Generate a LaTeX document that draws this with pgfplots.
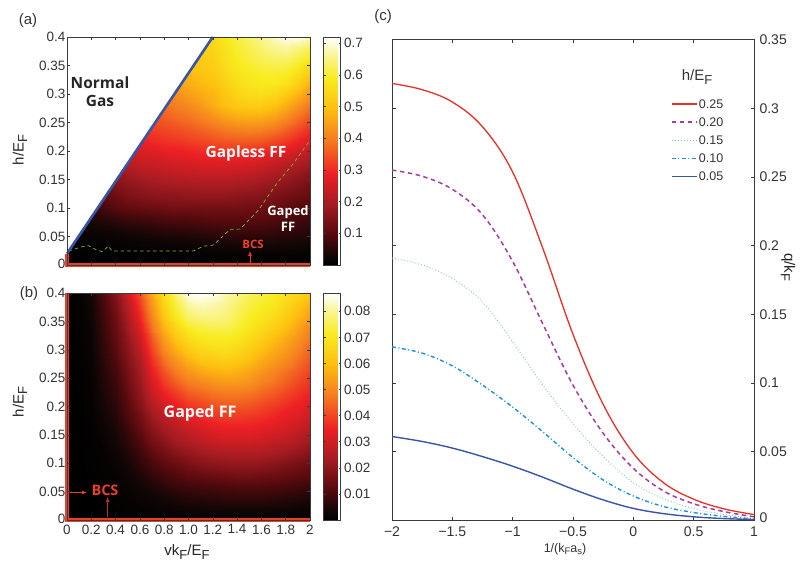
\documentclass[border=0pt]{standalone}
\usepackage{pgfplots}
\pgfplotsset{compat=1.18}
\usepackage{fontspec}
\setmainfont{Liberation Sans}
\newfontfamily\myr{Open Sans}
\usetikzlibrary{arrows.meta}
\definecolor{frame}{HTML}{3A3A3A}
\definecolor{bcsred}{HTML}{E8402A}
\definecolor{lnred}{HTML}{E8302A}
\definecolor{lnpur}{HTML}{A43D9E}
\definecolor{lngrn}{HTML}{7FC8A8}
\definecolor{lnblu}{HTML}{1E90D8}
\definecolor{lndbl}{HTML}{3A55A5}
\definecolor{grn}{HTML}{7CB342}
\pgfplotsset{
  colormap={hotish}{rgb255(0pt)=(0,0,0); rgb255(4pt)=(18,6,6); rgb255(14pt)=(90,10,14); rgb255(27pt)=(165,28,34); rgb255(40pt)=(237,32,36); rgb255(55pt)=(245,125,32); rgb255(69pt)=(253,192,16); rgb255(82pt)=(248,236,32); rgb255(93pt)=(250,246,160); rgb255(100pt)=(255,255,255)},
  heat/.style={
    scale only axis, width=243pt, anchor=south west,
    xmin=0,xmax=2,ymin=0,ymax=0.4,
    xtick={0,0.2,...,2.01}, ytick={0,0.05,...,0.401},
    yticklabels={\raisebox{2pt}{0},0.05,0.1,0.15,0.2,0.25,0.3,0.35,\raisebox{-3pt}{0.4}},
    tick align=inside, major tick length=3pt, tick style={frame,line width=.5pt},
    axis line style={frame,line width=.9pt},
    axis on top, clip=false,
    ticklabel style={font=\fontsize{13.5}{14}\selectfont,text=black!80, inner sep=1.5pt},
    colormap name=hotish, colorbar,
  },
  heatdata/.style={surf, shader=interp, mesh/cols=21, point meta=explicit},
}
\begin{document}
\begin{tikzpicture}[x=1pt,y=1pt]
\path[use as bounding box] (0,0) rectangle (806,563);

% ---------- panel (a)
\begin{axis}[heat, at={(67pt,298pt)}, height=228pt, xticklabels={},
  point meta min=0, point meta max=0.72,
  colorbar style={at={(parent axis.north east)}, anchor=north west, xshift=5pt, width=17pt,
    scaled ticks=false,
    ytick={0.1,0.2,0.3,0.4,0.5,0.6,0.7}, yticklabels={0.1,0.2,0.3,0.4,0.5,0.6,0.7},
    yticklabel pos=right, tick align=inside, major tick length=2pt,
    tick style={frame,line width=.5pt}, axis line style={frame,line width=.9pt},
    ticklabel style={font=\fontsize{13.5}{14}\selectfont,text=black!80}}]
\addplot[heatdata] table[x expr={mod(\coordindex,21)*0.1}, y expr={floor(\coordindex/21)*0.02}, meta index=0, header=false, row sep=crcr]{
.002\\.002\\.002\\.002\\.002\\.002\\.002\\.002\\.002\\.002\\.002\\.002\\.002\\.002\\.002\\.002\\.002\\.002\\.002\\.002\\.002\\
.002\\.003\\.003\\.003\\.004\\.004\\.005\\.005\\.006\\.006\\.007\\.008\\.009\\.01\\.01\\.01\\.01\\.01\\.01\\.01\\.01\\
.005\\.008\\.008\\.01\\.012\\.015\\.018\\.02\\.022\\.024\\.026\\.03\\.034\\.036\\.04\\.04\\.04\\.038\\.035\\.032\\.03\\
.01\\.02\\.02\\.025\\.03\\.035\\.04\\.045\\.05\\.052\\.055\\.06\\.065\\.07\\.07\\.07\\.07\\.065\\.06\\.055\\.05\\
.02\\.03\\.04\\.05\\.06\\.07\\.075\\.08\\.085\\.09\\.09\\.095\\.1\\.1\\.1\\.1\\.1\\.095\\.085\\.08\\.07\\
.03\\.04\\.06\\.08\\.1\\.11\\.115\\.12\\.125\\.13\\.13\\.13\\.13\\.13\\.13\\.125\\.12\\.115\\.105\\.095\\.085\\
.05\\.06\\.08\\.1\\.12\\.14\\.15\\.155\\.16\\.16\\.165\\.165\\.165\\.165\\.16\\.155\\.15\\.14\\.13\\.12\\.11\\
.07\\.08\\.1\\.12\\.15\\.165\\.175\\.185\\.19\\.195\\.195\\.2\\.2\\.2\\.195\\.19\\.18\\.17\\.16\\.145\\.13\\
.09\\.1\\.12\\.14\\.17\\.19\\.205\\.215\\.22\\.225\\.23\\.235\\.235\\.235\\.23\\.225\\.215\\.2\\.19\\.175\\.155\\
.1\\.12\\.14\\.17\\.19\\.22\\.235\\.245\\.25\\.255\\.26\\.27\\.27\\.27\\.27\\.265\\.255\\.24\\.225\\.21\\.19\\
.12\\.14\\.16\\.19\\.21\\.24\\.26\\.27\\.28\\.285\\.29\\.3\\.305\\.31\\.31\\.305\\.3\\.285\\.27\\.25\\.23\\
.14\\.16\\.18\\.21\\.24\\.26\\.285\\.3\\.31\\.315\\.325\\.335\\.345\\.355\\.36\\.36\\.355\\.34\\.32\\.295\\.27\\
.16\\.18\\.2\\.23\\.26\\.28\\.31\\.325\\.335\\.345\\.355\\.37\\.385\\.4\\.41\\.415\\.41\\.395\\.37\\.34\\.31\\
.18\\.2\\.22\\.25\\.28\\.3\\.33\\.35\\.36\\.375\\.385\\.405\\.425\\.45\\.465\\.47\\.465\\.45\\.42\\.385\\.35\\
.2\\.22\\.24\\.27\\.3\\.32\\.35\\.37\\.385\\.4\\.415\\.44\\.47\\.5\\.515\\.525\\.525\\.505\\.47\\.43\\.39\\
.22\\.24\\.26\\.29\\.32\\.34\\.37\\.39\\.41\\.425\\.445\\.465\\.48\\.51\\.54\\.555\\.56\\.55\\.52\\.48\\.43\\
.24\\.26\\.28\\.31\\.33\\.35\\.38\\.4\\.43\\.45\\.47\\.49\\.5\\.53\\.56\\.575\\.585\\.585\\.57\\.53\\.48\\
.26\\.28\\.3\\.33\\.35\\.37\\.4\\.42\\.45\\.47\\.49\\.51\\.52\\.55\\.575\\.59\\.6\\.605\\.6\\.57\\.53\\
.28\\.3\\.32\\.35\\.37\\.39\\.42\\.44\\.47\\.49\\.505\\.52\\.53\\.565\\.59\\.605\\.62\\.63\\.63\\.61\\.58\\
.3\\.32\\.34\\.37\\.39\\.41\\.44\\.46\\.49\\.51\\.52\\.53\\.54\\.57\\.6\\.62\\.64\\.66\\.67\\.65\\.62\\
.32\\.34\\.36\\.39\\.41\\.43\\.46\\.48\\.51\\.53\\.535\\.54\\.545\\.58\\.61\\.635\\.66\\.69\\.71\\.715\\.68\\
};
% normal-gas region
\addplot[fill=white,draw=none] coordinates {(0,0.02)(1.2,0.4)(0,0.4)} --cycle;
% phase boundaries
\addplot[grn,line width=.7pt,dash pattern=on 3.5pt off 3pt] coordinates {(.014,.0245)(.123,.032)(.178,.034)(.233,.0275)(.288,.0234)(.342,.033)(.37,.0245)(1.04,.0245)(1.123,.033)(1.205,.035)(1.342,.0625)(1.425,.063)(1.575,.096)(1.726,.143)(1.863,.178)(2,.219)};
\addplot[lndbl,line width=2.6pt] coordinates {(0,0.02)(1.2,0.4)};
\addplot[bcsred,line width=3.2pt] coordinates {(0,0.02)(0,0)(2,0)};
\end{axis}

% ---------- panel (b)
\begin{axis}[heat, at={(67pt,43pt)}, height=227pt,
  xticklabels={0,0.2,0.4,0.6,0.8,1.0,1.2,1.4,1.6,1.8,2},
  xticklabel style={yshift=-3pt},
  point meta min=0, point meta max=0.087,
  colorbar style={at={(parent axis.north east)}, anchor=north west, xshift=5pt, width=17pt,
    scaled ticks=false,
    ytick={0.01,0.02,0.03,0.04,0.05,0.06,0.07,0.08}, yticklabels={0.01,0.02,0.03,0.04,0.05,0.06,0.07,0.08},
    yticklabel pos=right, tick align=inside, major tick length=2pt,
    tick style={frame,line width=.5pt}, axis line style={frame,line width=.9pt},
    ticklabel style={font=\fontsize{13.5}{14}\selectfont,text=black!80}}]
\addplot[heatdata] table[x expr={mod(\coordindex,21)*0.1}, y expr={floor(\coordindex/21)*0.02}, meta index=0, header=false, row sep=crcr]{
0\\0\\0\\.0002\\.0003\\.0003\\.0004\\.0004\\.0005\\.0005\\.0005\\.0006\\.0006\\.0006\\.0006\\.0006\\.0006\\.0006\\.0006\\.0005\\.0005\\
0\\0\\0\\.0003\\.0005\\.001\\.0012\\.0015\\.002\\.0025\\.003\\.003\\.0035\\.0035\\.0035\\.0035\\.0035\\.003\\.003\\.0025\\.002\\
0\\0\\.0002\\.0004\\.0008\\.0015\\.0025\\.003\\.004\\.005\\.006\\.0065\\.007\\.0075\\.0075\\.0075\\.0075\\.007\\.0065\\.006\\.005\\
0\\0\\.0003\\.0006\\.0012\\.002\\.0035\\.005\\.0065\\.008\\.009\\.0095\\.01\\.0105\\.011\\.011\\.011\\.0105\\.01\\.009\\.008\\
0\\.0001\\.0004\\.0008\\.0015\\.003\\.005\\.0075\\.0095\\.011\\.013\\.014\\.015\\.0155\\.016\\.016\\.0155\\.015\\.014\\.013\\.012\\
0\\.0001\\.0005\\.001\\.002\\.004\\.007\\.01\\.013\\.015\\.017\\.019\\.02\\.0205\\.021\\.021\\.0205\\.0195\\.018\\.0165\\.015\\
0\\.0001\\.0006\\.0012\\.003\\.0055\\.009\\.013\\.016\\.019\\.021\\.023\\.0245\\.025\\.0255\\.0255\\.025\\.024\\.0225\\.021\\.019\\
0\\.0002\\.0007\\.0018\\.0038\\.007\\.011\\.016\\.0195\\.023\\.025\\.027\\.029\\.03\\.03\\.03\\.0295\\.028\\.027\\.025\\.023\\
0\\.0002\\.0008\\.0024\\.0045\\.0085\\.0135\\.019\\.023\\.026\\.029\\.031\\.033\\.034\\.034\\.034\\.033\\.032\\.0305\\.0285\\.026\\
0\\.0002\\.001\\.003\\.0058\\.0105\\.0155\\.022\\.0265\\.03\\.033\\.035\\.037\\.038\\.038\\.0375\\.0365\\.035\\.033\\.0315\\.029\\
0\\.0003\\.0012\\.0038\\.0068\\.012\\.018\\.025\\.03\\.034\\.037\\.039\\.041\\.042\\.042\\.0415\\.04\\.038\\.036\\.034\\.032\\
0\\.0003\\.0014\\.0044\\.0078\\.0135\\.02\\.0285\\.034\\.038\\.042\\.044\\.046\\.047\\.047\\.046\\.044\\.042\\.0395\\.037\\.0345\\
0\\.0004\\.0016\\.005\\.0085\\.015\\.0215\\.031\\.038\\.043\\.047\\.049\\.051\\.052\\.052\\.051\\.048\\.046\\.043\\.04\\.037\\
0\\.0004\\.0018\\.0056\\.0098\\.0165\\.023\\.034\\.042\\.048\\.052\\.055\\.057\\.058\\.057\\.055\\.052\\.049\\.046\\.043\\.0395\\
0\\.0005\\.002\\.0063\\.011\\.018\\.025\\.037\\.046\\.052\\.057\\.061\\.062\\.063\\.062\\.06\\.056\\.053\\.05\\.046\\.042\\
0\\.0005\\.0022\\.007\\.0125\\.0195\\.027\\.04\\.05\\.057\\.062\\.066\\.067\\.068\\.066\\.063\\.06\\.056\\.053\\.049\\.044\\
0\\.0006\\.0024\\.0075\\.0135\\.021\\.03\\.043\\.054\\.062\\.067\\.07\\.071\\.071\\.07\\.067\\.064\\.06\\.056\\.052\\.047\\
0\\.0007\\.0026\\.008\\.0145\\.023\\.033\\.047\\.058\\.066\\.072\\.074\\.075\\.075\\.073\\.07\\.067\\.064\\.06\\.055\\.05\\
0\\.0008\\.0028\\.0088\\.0155\\.025\\.036\\.05\\.062\\.071\\.077\\.079\\.079\\.078\\.075\\.072\\.07\\.067\\.063\\.059\\.054\\
0\\.0009\\.0032\\.0098\\.017\\.027\\.039\\.053\\.065\\.074\\.081\\.083\\.082\\.08\\.077\\.074\\.072\\.07\\.066\\.062\\.058\\
0\\.001\\.004\\.011\\.019\\.03\\.042\\.056\\.068\\.078\\.086\\.087\\.086\\.082\\.079\\.076\\.074\\.072\\.069\\.066\\.062\\
};
\addplot[bcsred,line width=3.2pt] coordinates {(0,0.4)(0,0)(2,0)};
\end{axis}

% ---------- panel (c)
\begin{axis}[scale only axis, width=362pt, height=481pt, anchor=south west, at={(392pt,42.5pt)},
  xmin=-2,xmax=1,ymin=0,ymax=0.35,
  xtick={-2,-1.5,-1,-0.5,0,0.5,1}, xticklabels={−2,−1.5,−1,−0.5,0,0.5,1},
  ytick={0,0.05,0.1,0.15,0.2,0.25,0.3,0.35},
  yticklabels={\raisebox{6pt}{0},0.05,0.1,0.15,0.2,0.25,0.3,\raisebox{-5pt}{0.35}},
  yticklabel pos=right,
  tick align=inside, major tick length=3.5pt, tick style={frame,line width=.6pt},
  axis line style={frame,line width=.9pt},
  ticklabel style={font=\fontsize{14}{15}\selectfont,text=black!80},
  xticklabel style={yshift=-3pt},
  yticklabel style={xshift=2pt},
  legend style={at={(0.77,0.879)},anchor=north west,draw=none,fill=none,inner sep=0pt,
    font=\fontsize{12.5}{13}\selectfont, row sep=6.1pt, text=black!80,
    nodes={inner sep=1.5pt,text height=9pt,text depth=0pt}},
  legend cell align=left,
  legend image code/.code={\draw[#1] (0pt,0pt) -- (25pt,0pt);},
]
\addplot[lnred,line width=1.3pt,smooth,tension=.6] coordinates {(-2,.318)(-1.75,.3135)(-1.5,.3045)(-1.25,.2865)(-1,.2535)(-.75,.198)(-.5,.1355)(-.25,.0845)(0,.049)(.25,.0275)(.5,.0155)(.75,.0085)(1,.0043)};
\addlegendentry{0.25}
\addplot[lnpur,line width=1.5pt,dash pattern=on 4.5pt off 3.5pt,smooth,tension=.6] coordinates {(-2,.255)(-1.75,.2505)(-1.5,.241)(-1.25,.2225)(-1,.1885)(-.75,.143)(-.5,.0985)(-.25,.0635)(0,.038)(.25,.0215)(.5,.0122)(.75,.0065)(1,.0027)};
\addlegendentry{0.20}
\addplot[lngrn,line width=1pt,dash pattern=on .8pt off 2.2pt,smooth,tension=.6] coordinates {(-2,.191)(-1.75,.186)(-1.5,.176)(-1.25,.159)(-1,.13)(-.75,.0985)(-.5,.0705)(-.25,.0465)(0,.0275)(.25,.0158)(.5,.0087)(.75,.0044)(1,.0015)};
\addlegendentry{0.15}
\addplot[lnblu,line width=1.4pt,dash pattern=on 4pt off 2.5pt on 1pt off 2.5pt,smooth,tension=.6] coordinates {(-2,.1263)(-1.75,.1218)(-1.5,.1125)(-1.25,.0985)(-1,.0825)(-.75,.0645)(-.5,.0458)(-.25,.0295)(0,.0178)(.25,.0102)(.5,.0058)(.75,.003)(1,.001)};
\addlegendentry{0.10}
\addplot[lndbl,line width=1.4pt,smooth,tension=.6] coordinates {(-2,.0611)(-1.75,.0575)(-1.5,.0527)(-1.25,.0465)(-1,.0395)(-.75,.0315)(-.5,.0228)(-.25,.015)(0,.0088)(.25,.005)(.5,.0027)(.75,.0014)(1,.0007)};
\addlegendentry{0.05}
\end{axis}

% ---------- labels (y measured from page top: 563-y)
\def\tl{\fontsize{15}{16}\selectfont}
\node[font=\tl,text=black!80] at (28,542) {(a)};
\node[font=\tl,text=black!80] at (29,269) {(b)};
\node[font=\tl,text=black!80] at (383,546) {(c)};
\node[rotate=90,font=\tl,text=black!85] at (20,413) {h/E\raisebox{-3.5pt}{\fontsize{13}{13}\selectfont F}};
\node[rotate=90,font=\tl,text=black!85] at (20,161) {h/E\raisebox{-3.5pt}{\fontsize{13}{13}\selectfont F}};
\node[font=\tl,text=black!85] at (187,11) {vk\raisebox{-3.5pt}{\fontsize{13}{13}\selectfont F}/E\raisebox{-3.5pt}{\fontsize{13}{13}\selectfont F}};
\node[rotate=-90,font=\tl,text=black!85] at (788,296) {q/k\raisebox{-3.5pt}{\fontsize{13}{13}\selectfont F}};
\node[font=\fontsize{12.5}{13}\selectfont,text=black!80] at (565,14) {1/(k\raisebox{-2.5pt}{\fontsize{9.5}{10}\selectfont F}a\raisebox{-2.5pt}{\fontsize{9.5}{10}\selectfont s})};
\node[font=\tl,text=black!80] at (697,486) {h/E\raisebox{-3.5pt}{\fontsize{13}{13}\selectfont F}};

% region names
\node[font=\myr\bfseries\fontsize{15.5}{16}\selectfont,text=black!85,align=center,inner sep=0pt] at (100,471) {Normal\\[2pt]Gas};
\node[font=\myr\bfseries\fontsize{15.5}{16}\selectfont,text=white,inner sep=0pt] at (246,410) {Gapless FF};
\node[font=\myr\bfseries\fontsize{13}{14}\selectfont,text=white,align=center,inner sep=0pt] at (288,344) {Gaped\\[2pt]FF};
\node[font=\myr\bfseries\fontsize{11.5}{12}\selectfont,text=bcsred,inner sep=0pt] at (253,319) {BCS};
\draw[-{Latex[length=5pt,width=4pt]},bcsred,line width=.7pt] (250,300) -- (250,312);
\node[font=\myr\bfseries\fontsize{16}{17}\selectfont,text=white,inner sep=0pt] at (200,150) {Gaped FF};
\node[font=\myr\bfseries\fontsize{14.5}{15}\selectfont,text=bcsred,inner sep=0pt] at (105,73) {BCS};
\draw[-{Latex[length=5pt,width=4pt]},bcsred,line width=.7pt] (70,70.5) -- (87,70.5);
\draw[-{Latex[length=5pt,width=4pt]},bcsred!80!black,line width=.7pt] (107.7,46) -- (107.7,66);
\end{tikzpicture}
\end{document}
